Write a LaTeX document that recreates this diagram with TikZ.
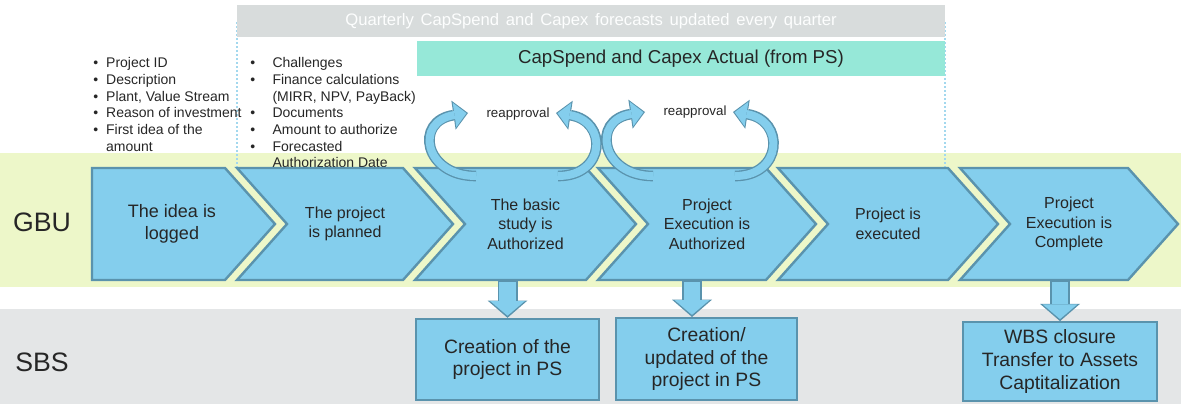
\documentclass[tikz,border=0pt]{standalone}
\usepackage{fontspec}
\setmainfont{Liberation Sans}
\usepackage{xcolor}
\usepackage{tikz}
\usetikzlibrary{arrows.meta,positioning}
\definecolor{bandgreen}{HTML}{EDF7C9}
\definecolor{bandgray}{HTML}{E4E6E7}
\definecolor{bargray}{HTML}{D8DCDC}
\definecolor{barteal}{HTML}{96E8D8}
\definecolor{stagefill}{HTML}{84CEED}
\definecolor{stageedge}{HTML}{5A93AD}
\definecolor{textdark}{HTML}{262626}
\definecolor{dotblue}{HTML}{A3D8EE}
\tikzstyle{stage} = [draw=stageedge, fill=stagefill, line width=1.8pt, line join=miter]
\tikzstyle{stagetext} = [draw=none, fill=none, align=center, text=textdark, font=\fontsize{12}{14.6}\selectfont, minimum height=84pt, inner sep=0pt]
\tikzstyle{sbsbox} = [draw=stageedge, fill=stagefill, line width=1.5pt, align=center, text=textdark, font=\fontsize{14.5}{17}\selectfont, inner sep=0pt]
\tikzstyle{lane} = [draw=none, fill=none, text=textdark, font=\fontsize{20}{24}\selectfont]
\tikzstyle{bulletlist} = [draw=none, fill=none, anchor=north west, inner sep=0pt, text=textdark, font=\fontsize{10.5}{12.5}\selectfont]
\tikzstyle{topbar} = [draw=none, inner sep=0pt]
\tikzstyle{downout} = [draw=stageedge, line width=15pt, -{Triangle[length=13pt, width=30pt, line width=0pt]}]
\tikzstyle{downin} = [draw=stagefill, line width=12.6pt, -{Triangle[length=11pt, width=26pt, line width=0pt]}, shorten >=1.6pt, shorten <=1.4pt]
\tikzstyle{loopout} = [draw=stageedge, line width=8pt, -{Triangle[length=11pt, width=22pt, line width=0pt]}]
\tikzstyle{loopin} = [draw=stagefill, line width=6pt, -{Triangle[length=9pt, width=18.5pt, line width=0pt]}, shorten >=1.2pt]
\newcommand{\stagechevron}[4]{%
  \draw[stage] (#1,168) -- (#2,168) -- ({#2+50},224) -- (#2,280) -- (#1,280) -- ({#1+50},224) -- cycle;
  \node[stagetext] (#3) at ({(#1+#2+50)/2},224) {#4};
}
\newcommand{\gap}{\hspace{5pt}}

\begin{document}
\begin{tikzpicture}[x=0.75pt, y=-0.75pt]
\useasboundingbox (0,0) rectangle (1181,404);

% bands =============================
\fill[bandgreen] (0,153) rectangle (1181,287);
\fill[bandgray] (0,309) rectangle (1181,404);

% dotted frame of the forecast period
\draw[dotblue, line width=1.2pt, dash pattern=on 1.5pt off 1.5pt] (237,22) -- (237,168);
\draw[dotblue, line width=1.2pt, dash pattern=on 1.5pt off 1.5pt] (945,22) -- (945,168);

% bars on top
\node[topbar, fill=bargray, minimum width=531pt, minimum height=24pt, text=white!96!bargray, font=\fontsize{12.5}{14}\selectfont] (forecast) at (591,21) {Quarterly\gap CapSpend\gap and\gap Capex\gap forecasts\gap updated\gap every\gap quarter};
\node[topbar, fill=barteal, minimum width=396pt, minimum height=26pt, text=textdark, font=\fontsize{14}{16}\selectfont] (actual) at (681,58.5) {CapSpend and Capex Actual (from PS)};

% bullet lists
\node[bulletlist] (logdata) at (93,56) {%
\begin{tabular}{@{}l@{\hspace{6pt}}l@{}}
\textbullet & Project ID\\
\textbullet & Description\\
\textbullet & Plant, Value Stream\\
\textbullet & Reason of investment\\
\textbullet & First idea of the\\
 & amount
\end{tabular}};
\node[bulletlist] (plandata) at (250,56) {%
\begin{tabular}{@{}l@{\hspace{13pt}}l@{}}
\textbullet & Challenges\\
\textbullet & Finance calculations\\
 & (MIRR, NPV, PayBack)\\
\textbullet & Documents\\
\textbullet & Amount to authorize\\
\textbullet & Forecasted\\
 & Authorization Date
\end{tabular}};

% GBU stages =============================
\draw[stage] (92,168) -- (225,168) -- (275,224) -- (225,280) -- (92,280) -- cycle;
\node[stagetext, font=\fontsize{13.5}{17}\selectfont] (s1) at (172,224) {The idea is\\logged};
\stagechevron{237}{403}{s2}{The project\\is planned}
\stagechevron{415}{586}{s3}{The basic\\study is\\Authorized}
\stagechevron{598}{766}{s4}{Project\\Execution is\\Authorized}
\stagechevron{778}{948}{s5}{Project is\\executed}
\stagechevron{960}{1128}{s6}{Project\\Execution is\\Complete}

% reapproval loops
\node[text=textdark, font=\fontsize{10}{12}\selectfont, inner sep=0pt] (reapp1) at (518,114) {reapproval};
\node[text=textdark, font=\fontsize{10}{12}\selectfont, inner sep=0pt] (reapp2) at (695,112) {reapproval};
\coordinate (r1a) at (476,176);
\coordinate (r1b) at (468,113);
\coordinate (r1c) at (558,176);
\coordinate (r1d) at (556,113);
\coordinate (r2a) at (653,176);
\coordinate (r2b) at (645,112);
\coordinate (r2c) at (735,176);
\coordinate (r2d) at (733,112);
\draw[loopout] (r1a) .. controls +(-52,0) and +(-54,8) .. (r1b);
\draw[loopin] (r1a) .. controls +(-52,0) and +(-54,8) .. (r1b);
\draw[loopout] (r1c) .. controls +(48,0) and +(52,8) .. (r1d);
\draw[loopin] (r1c) .. controls +(48,0) and +(52,8) .. (r1d);
\draw[loopout] (r2a) .. controls +(-52,0) and +(-54,8) .. (r2b);
\draw[loopin] (r2a) .. controls +(-52,0) and +(-54,8) .. (r2b);
\draw[loopout] (r2c) .. controls +(48,0) and +(52,8) .. (r2d);
\draw[loopin] (r2c) .. controls +(48,0) and +(52,8) .. (r2d);

% SBS boxes =============================
\node[sbsbox, minimum width=137pt, minimum height=61pt] (b1) at (507.5,359.5) {Creation of the\\project in PS};
\node[sbsbox, minimum width=136pt, minimum height=61.5pt] (b2) at (706.5,359) {Creation/\\updated of the\\project in PS};
\node[sbsbox, minimum width=145.5pt, minimum height=59pt] (b3) at (1060,361.5) {WBS closure\\Transfer to Assets\\Captitalization};

% lane labels
\node[lane] (gbu) at (42,222) {GBU};
\node[lane, below=105pt of gbu.center, anchor=center] (sbs) {SBS};

% stages to SBS
\draw[downout] (s3.south -| b1.north) -- (b1.north);
\draw[downin] (s3.south -| b1.north) -- (b1.north);
\draw[downout] (s4.south -| 692,0) -- (b2.north -| 692,0);
\draw[downin] (s4.south -| 692,0) -- (b2.north -| 692,0);
\draw[downout] (s6.south -| b3.north) -- (b3.north);
\draw[downin] (s6.south -| b3.north) -- (b3.north);

\end{tikzpicture}
\end{document}
